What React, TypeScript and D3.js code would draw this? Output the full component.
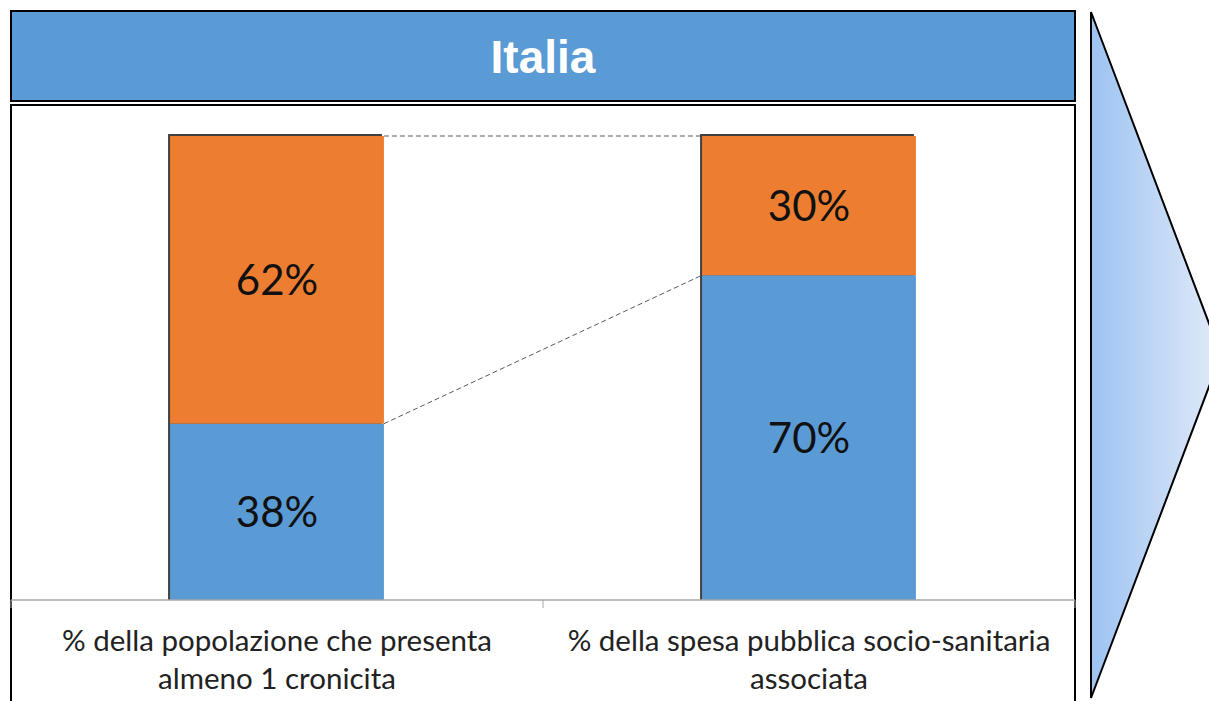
import React from 'react'
import * as d3 from 'd3'

const categories = ['pop', 'spesa']
const labelLines = [
    ['% della popolazione che presenta', 'almeno 1 cronicita'],
    ['% della spesa pubblica socio-sanitaria', 'associata']
]
const blueValues = [38, 70]
const orangeValues = [62, 30]
const title = 'Italia'

const W = 1209, H = 701
const BLUE = '#5B9BD5', ORANGE = '#ED7D31'

const Arrow = () => {
    const pts: [number, number][] = [[1091, 12], [1221, 355], [1091, 698]]
    return (
        <g>
            <defs>
                <linearGradient id="arrowGrad" x1="0" x2="1" y1="0" y2="0">
                    <stop offset="0" stopColor="#9DC3F1" />
                    <stop offset="1" stopColor="#E3EBF9" />
                </linearGradient>
            </defs>
            <polygon points={pts.map(p => p.join(',')).join(' ')}
                fill="url(#arrowGrad)" stroke="#000" strokeWidth={2} strokeLinejoin="miter" />
        </g>
    )
}

export default function App() {
    const plot = { left: 11, right: 1075, top: 136, base: 600 }

    const x = d3.scaleBand<string>().domain(categories).range([plot.left, plot.right])
    const y = d3.scaleLinear().domain([0, 100]).range([plot.base, plot.top])
    const barW = x.bandwidth() * 0.402
    const bx = (c: string) => (x(c) as number) + (x.bandwidth() - barW) / 2

    const stacks = categories.map((c, i) => {
        const b = blueValues[i], o = orangeValues[i]
        return { c, b, o, x0: bx(c), yB: y(b), yTop: y(b + o) }
    })

    const lineGen = d3.line()

    const ticks = [plot.left, ...categories.map(c => (x(c) as number) + x.bandwidth())]

    return (
        <svg width={W} height={H} style={{ position: 'absolute', left: 0, top: 0, background: '#fff' }}>
            {/* title bar */}
            <rect x={11} y={11} width={1064} height={90} fill={BLUE} stroke="#000" strokeWidth={2} />
            <text x={543} y={73} textAnchor="middle" fill="#fff"
                style={{ fontFamily: 'Liberation Sans, Arial, sans-serif', fontWeight: 700, fontSize: 46 }}>{title}</text>

            {/* chart frame */}
            <rect x={11} y={105} width={1064} height={620} fill="#fff" stroke="#000" strokeWidth={2} />

            {/* dashed connectors */}
            <path d={lineGen([[stacks[0].x0 + barW, stacks[0].yTop], [stacks[1].x0, stacks[1].yTop]]) || ''}
                stroke="#595959" strokeWidth={1} strokeDasharray="5,3" fill="none" />
            <path d={lineGen([[stacks[0].x0 + barW, stacks[0].yB], [stacks[1].x0, stacks[1].yB]]) || ''}
                stroke="#595959" strokeWidth={1} strokeDasharray="5,3" fill="none" />

            {/* bars */}
            {stacks.map(s => (
                <g key={s.c}>
                    <rect x={s.x0 - 2} y={s.yTop - 2} width={barW} height={plot.base - s.yTop + 2} fill="#404040" />
                    <rect x={s.x0} y={s.yB} width={barW} height={plot.base - s.yB} fill={BLUE} />
                    <rect x={s.x0} y={s.yTop} width={barW} height={s.yB - s.yTop} fill={ORANGE} />
                    <text x={s.x0 + barW / 2} y={(s.yB + plot.base) / 2} dy="0.36em" textAnchor="middle" fill="#111"
                        style={{ fontFamily: 'Lato, sans-serif', fontSize: 42 }}>{s.b}%</text>
                    <text x={s.x0 + barW / 2} y={(s.yTop + s.yB) / 2} dy="0.36em" textAnchor="middle" fill="#111"
                        style={{ fontFamily: 'Lato, sans-serif', fontSize: 42 }}>{s.o}%</text>
                </g>
            ))}

            {/* axis */}
            <line x1={plot.left} x2={plot.right} y1={plot.base} y2={plot.base} stroke="#a6a6a6" strokeWidth={1.5} />
            {ticks.map((t, i) => (
                <line key={i} x1={t} x2={t} y1={plot.base} y2={plot.base + 8} stroke="#a6a6a6" strokeWidth={1} />
            ))}
            {categories.map((c, i) => (
                <text key={c} textAnchor="middle" fill="#222"
                    style={{ fontFamily: 'Lato, sans-serif', fontSize: 29.5 }}>
                    {labelLines[i].map((l, j) => (
                        <tspan key={j} x={(x(c) as number) + x.bandwidth() / 2} y={651 + j * 38}>{l}</tspan>
                    ))}
                </text>
            ))}

            <Arrow />
        </svg>
    )
}
